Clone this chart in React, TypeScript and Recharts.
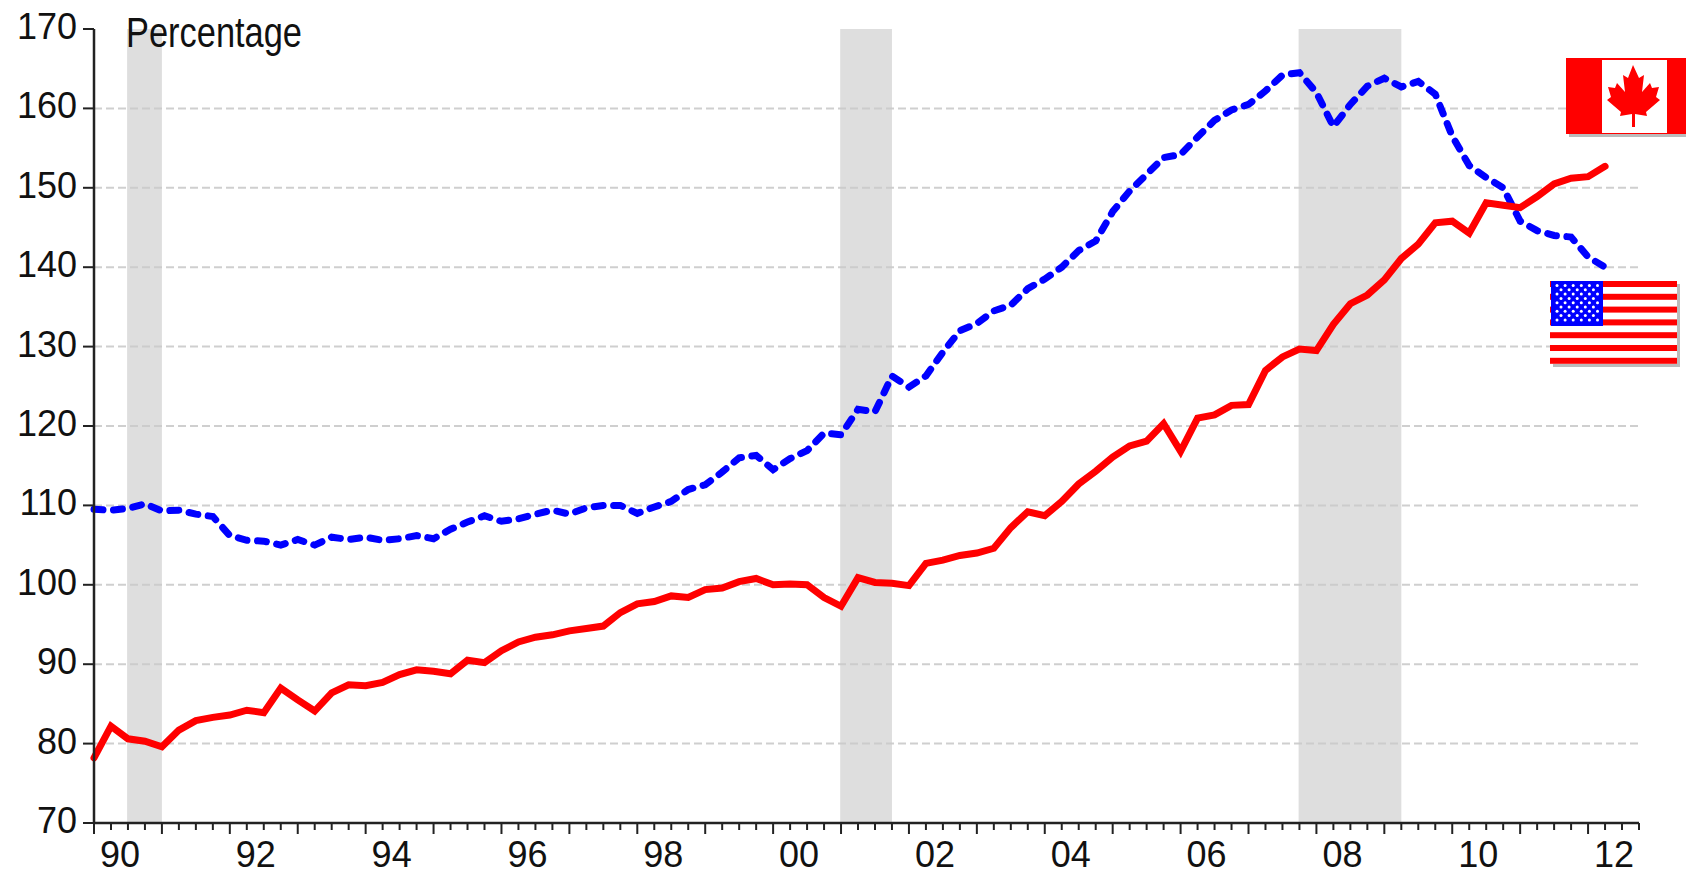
import React from 'react';
import { ComposedChart, Line, XAxis, YAxis, CartesianGrid, ReferenceArea } from 'recharts';

const W = 1686;
const H = 872;

const quarters = Array.from({ length: 90 }, (_, i) => i);

// US debt to income, red solid
const usValues = [
  78.2, 82.2, 80.6, 80.3, 79.6, 81.7, 82.9, 83.3, 83.6, 84.2,
  83.9, 87.0, 85.5, 84.1, 86.4, 87.4, 87.3, 87.7, 88.7, 89.3,
  89.1, 88.8, 90.5, 90.2, 91.7, 92.8, 93.4, 93.7, 94.2, 94.5,
  94.8, 96.5, 97.6, 97.9, 98.6, 98.4, 99.4, 99.6, 100.4, 100.8,
  100.0, 100.1, 100.0, 98.4, 97.3, 100.9, 100.3, 100.2, 99.9, 102.7,
  103.1, 103.7, 104.0, 104.6, 107.2, 109.2, 108.7, 110.5, 112.7, 114.3,
  116.1, 117.5, 118.1, 120.3, 116.8, 121.0, 121.4, 122.6, 122.7, 127.0,
  128.7, 129.7, 129.5, 132.8, 135.4, 136.5, 138.4, 141.1, 142.9, 145.6,
  145.8, 144.3, 148.1, 147.8, 147.5, 148.9, 150.5, 151.2, 151.4, 152.7,
];

// blue dashed
const otherValues = [
  109.5, 109.4, 109.6, 110.2, 109.3, 109.4, 108.9, 108.6, 106.2, 105.6,
  105.5, 105.0, 105.7, 105.0, 106.0, 105.7, 106.0, 105.6, 105.8, 106.2,
  105.8, 107.0, 107.9, 108.7, 108.0, 108.3, 108.9, 109.4, 108.9, 109.7,
  110.0, 110.0, 109.0, 109.8, 110.5, 112.0, 112.6, 114.2, 116.0, 116.3,
  114.5, 115.9, 116.9, 119.1, 118.9, 122.1, 121.8, 126.3, 124.9, 126.3,
  129.3, 132.0, 132.9, 134.5, 135.2, 137.3, 138.5, 140.0, 142.1, 143.3,
  147.0, 149.6, 151.7, 153.8, 154.2, 156.4, 158.5, 159.8, 160.5, 162.2,
  164.2, 164.5, 162.0, 157.7, 160.5, 162.8, 163.8, 162.7, 163.4, 161.8,
  156.5, 152.8, 151.3, 150.0, 145.8, 144.6, 144.0, 143.8, 141.3, 140.0,
];

const yTicks = [70, 80, 90, 100, 110, 120, 130, 140, 150, 160, 170];
const gridValues = [80, 90, 100, 110, 120, 130, 140, 150, 160];
const yearLabels = ['90', '92', '94', '96', '98', '00', '02', '04', '06', '08', '10', '12'];
const xTicks = Array.from({ length: 92 }, (_, i) => i);
const recessions = [[1.95, 4], [43.95, 47], [70.95, 77]];

const rows = quarters.map((q, i) => ({ q, us: usValues[i], other: otherValues[i] }));

const XTick = ({ x, y, payload }: any) => {
  const i = payload.value;
  const isYear = i % 4 === 0;
  return (
    <g>
      <line x1={x} x2={x} y1={y - 8} y2={y + (isYear ? 3 : -1)} stroke="#222" strokeWidth={2} />
      {i % 8 === 0 && (
        <text x={x + 26} y={y + 36} textAnchor="middle" fontSize={36} fill="#111" fontFamily="Liberation Sans">
          {yearLabels[i / 8]}
        </text>
      )}
    </g>
  );
};

const YTick = ({ x, y, payload }: any) => (
  <g>
    <line x1={x - 3} x2={x + 8} y1={y} y2={y} stroke="#222" strokeWidth={2} />
    <text x={x - 9} y={y + 10} textAnchor="end" fontSize={36} fill="#111" fontFamily="Liberation Sans">
      {payload.value}
    </text>
  </g>
);

const leaf =
  '1633,65 1639,78 1644,75 1642,92 1650,83 1652,88 1659,87 1656,97 1660,100 1646,112 1647,116 1635,114 1635,127 1632,127 1632,114 1620,116 1621,112 1607,100 1611,97 1608,87 1615,88 1617,83 1625,92 1623,75 1628,78';

const usStars: [number, number][] = [];
for (let r = 0; r < 9; r++) {
  const n = r % 2 === 0 ? 6 : 5;
  for (let c = 0; c < n; c++) {
    usStars.push([1557 + c * 8.1 + (r % 2 === 0 ? 0 : 4), 285.5 + r * 4.3]);
  }
}

const Flags = () => (
  <svg width={W} height={H} style={{ position: 'absolute', left: 0, top: 0 }}>
    <text
      x={126}
      y={47}
      fontSize={43}
      textLength={176}
      lengthAdjust="spacingAndGlyphs"
      fill="#111"
      fontFamily="Liberation Sans"
    >
      Percentage
    </text>
    {/* canada */}
    <rect x={1569} y={61} width={117} height={76} fill="#bbb" />
    <rect x={1566} y={58} width={120} height={76} fill="#f00" />
    <rect x={1602} y={60} width={65} height={73} fill="#fff" />
    <polygon points={leaf} fill="#f00" />
    {/* usa */}
    <rect x={1553} y={284} width={127} height={83} fill="#bbb" />
    <rect x={1550} y={281} width={127} height={83} fill="#fff" />
    {[0, 1, 2, 3, 4, 5, 6].map((s) => (
      <rect key={s} x={1550} y={281 + s * 12.8} width={127} height={6} fill="#f00" />
    ))}
    <rect x={1551} y={281} width={52} height={45} fill="#00f" />
    {usStars.map(([cx, cy], i) => (
      <circle key={i} cx={cx} cy={cy} r={1.5} fill="#fff" />
    ))}
  </svg>
);

export default function App() {
  return (
    <div style={{ position: 'absolute', left: 0, top: 0, width: W, height: H, background: '#fff', overflow: 'hidden' }}>
      <ComposedChart
        width={W}
        height={H}
        data={rows}
        margin={{ top: 29, right: 47, bottom: 0, left: 0 }}
      >
        <CartesianGrid
          vertical={false}
          horizontalValues={gridValues}
          stroke="#cfcfcf"
          strokeWidth={2}
          strokeDasharray="8 4"
        />
        {recessions.map(([a, b]) => (
          <ReferenceArea key={a} x1={a} x2={b} y1={70} y2={170} fill="#cacaca" fillOpacity={0.625} stroke="none" />
        ))}
        <XAxis
          dataKey="q"
          type="number"
          domain={[0, 91]}
          ticks={xTicks}
          interval={0}
          tick={XTick}
          tickLine={false}
          axisLine={{ stroke: '#222', strokeWidth: 2.5 }}
          height={49}
          allowDecimals={false}
        />
        <YAxis
          type="number"
          domain={[70, 170]}
          ticks={yTicks}
          interval={0}
          tick={YTick}
          tickLine={false}
          axisLine={{ stroke: '#222', strokeWidth: 2.5 }}
          width={94}
        />
        <Line
          dataKey="other"
          stroke="#0000ff"
          strokeWidth={7}
          strokeDasharray="9 10.5"
          strokeLinecap="round"
          dot={false}
          isAnimationActive={false}
        />
        <Line
          dataKey="us"
          stroke="#ff0000"
          strokeWidth={7}
          strokeLinecap="round"
          strokeLinejoin="miter"
          dot={false}
          isAnimationActive={false}
        />
      </ComposedChart>
      <Flags />
    </div>
  );
}
